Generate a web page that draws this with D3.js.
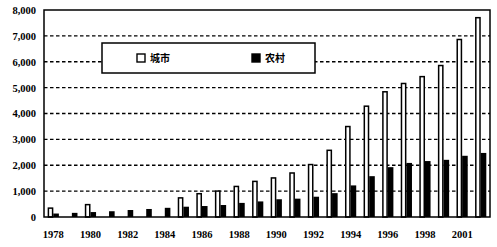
<!DOCTYPE html>
<html>
<head>
<meta charset="utf-8">
<script src="https://cdn.jsdelivr.net/npm/d3@7"></script>
<style>
  body { margin: 0; background: #fff; }
  svg { display: block; }
</style>
</head>
<body>
<div id="chart"></div>
<script>
// years shown (2000 is not in the source chart)
const years = ["1978", "1979", "1980", "1981", "1982", "1983", "1984", "1985",
  "1986", "1987", "1988", "1989", "1990", "1991", "1992", "1993", "1994",
  "1995", "1996", "1997", "1998", "1999", "2001", "2002"];
const urban = [343, null, 478, null, null, null, null, 739, 900, 1002, 1181,
  1376, 1510, 1701, 2027, 2577, 3496, 4283, 4839, 5160, 5425, 5854, 6860, 7703];
const rural = [134, 160, 191, 223, 270, 310, 355, 398, 424, 463, 545, 602,
  686, 709, 784, 922, 1221, 1578, 1926, 2090, 2162, 2210, 2366, 2476];
const yearLabels = ["1978", "1980", "1982", "1984", "1986", "1988", "1990",
  "1992", "1994", "1996", "1998", "2001"];
const yTicks = [0, 1000, 2000, 3000, 4000, 5000, 6000, 7000, 8000];
const seriesNames = ["城市", "农村"];

const W = 497, H = 247;
const margin = { top: 10, right: 7, bottom: 30, left: 44 };
const width = W - margin.left - margin.right;
const height = H - margin.top - margin.bottom;

const svg = d3.select("#chart").append("svg")
  .attr("width", W).attr("height", H)
  .append("g")
  .attr("transform", `translate(${margin.left},${margin.top})`);

const x0 = d3.scaleBand().domain(years).range([0, width]);
const x1 = d3.scaleBand().domain(seriesNames)
  .range([0, x0.bandwidth()]).paddingOuter(0.66);
const y = d3.scaleLinear().domain([0, 8000]).range([height, 0]);

const serifFont = "'Liberation Serif', 'DejaVu Serif', serif";

// dashed grid
svg.append("g")
  .selectAll("line")
  .data(yTicks.filter((d) => d > 0 && d < 8000))
  .enter()
  .append("line")
  .attr("x1", 0).attr("x2", width)
  .attr("y1", (d) => y(d)).attr("y2", (d) => y(d))
  .attr("stroke", "#000")
  .attr("stroke-width", 1.4)
  .attr("stroke-dasharray", "3.5,2.5");

// y axis labels
const yAxis = svg.append("g")
  .call(d3.axisLeft(y).tickValues(yTicks).tickSize(0).tickPadding(8)
    .tickFormat((d) => (d === 0 ? "0" : d3.format(",")(d))));
yAxis.select(".domain").remove();
yAxis.selectAll("text")
  .style("font-family", serifFont)
  .style("font-weight", "bold")
  .style("font-size", "10.5px")
  .attr("fill", "#000");

// x axis labels
const xAxis = svg.append("g")
  .attr("transform", `translate(0,${height})`)
  .call(d3.axisBottom(x0).tickValues(yearLabels).tickSize(0).tickPadding(14));
xAxis.select(".domain").remove();
xAxis.selectAll("text")
  .style("font-family", serifFont)
  .style("font-weight", "bold")
  .style("font-size", "10.5px")
  .attr("fill", "#000");

// bars
const groups = svg.append("g")
  .selectAll("g")
  .data(years)
  .enter()
  .append("g")
  .attr("transform", (d) => `translate(${x0(d)},0)`);

groups.filter((d, i) => urban[i] !== null)
  .append("rect")
  .attr("x", x1("城市") + 0.7)
  .attr("y", (d) => y(urban[years.indexOf(d)]))
  .attr("width", x1.bandwidth() - 1.4)
  .attr("height", (d) => height - y(urban[years.indexOf(d)]))
  .attr("fill", "#fff")
  .attr("stroke", "#000")
  .attr("stroke-width", 1.5);

groups.append("rect")
  .attr("x", x1("农村"))
  .attr("y", (d, i) => y(rural[i]))
  .attr("width", x1.bandwidth())
  .attr("height", (d, i) => height - y(rural[i]))
  .attr("fill", "#000");

// frame
svg.append("rect")
  .attr("x", 0).attr("y", 0)
  .attr("width", width).attr("height", height)
  .attr("fill", "none")
  .attr("stroke", "#000")
  .attr("stroke-width", 1.5);

// legend
const legend = svg.append("g").attr("transform", "translate(58,33)");
legend.append("rect")
  .attr("width", 213).attr("height", 30)
  .attr("fill", "#fff")
  .attr("stroke", "#000")
  .attr("stroke-width", 1.5);

const items = legend.selectAll(".item")
  .data(seriesNames)
  .enter()
  .append("g")
  .attr("class", "item")
  .attr("transform", (d, i) => `translate(${35 + i * 115},11)`);

items.append("rect")
  .attr("width", 8).attr("height", 8)
  .attr("fill", (d, i) => (i === 0 ? "#fff" : "#000"))
  .attr("stroke", "#000")
  .attr("stroke-width", 1.4);

items.append("text")
  .attr("x", 13).attr("y", 8)
  .style("font-family", "'Noto Sans CJK SC', sans-serif")
  .style("font-weight", "bold")
  .style("font-size", "10px")
  .attr("fill", "#000")
  .text((d) => d);
</script>
</body>
</html>
